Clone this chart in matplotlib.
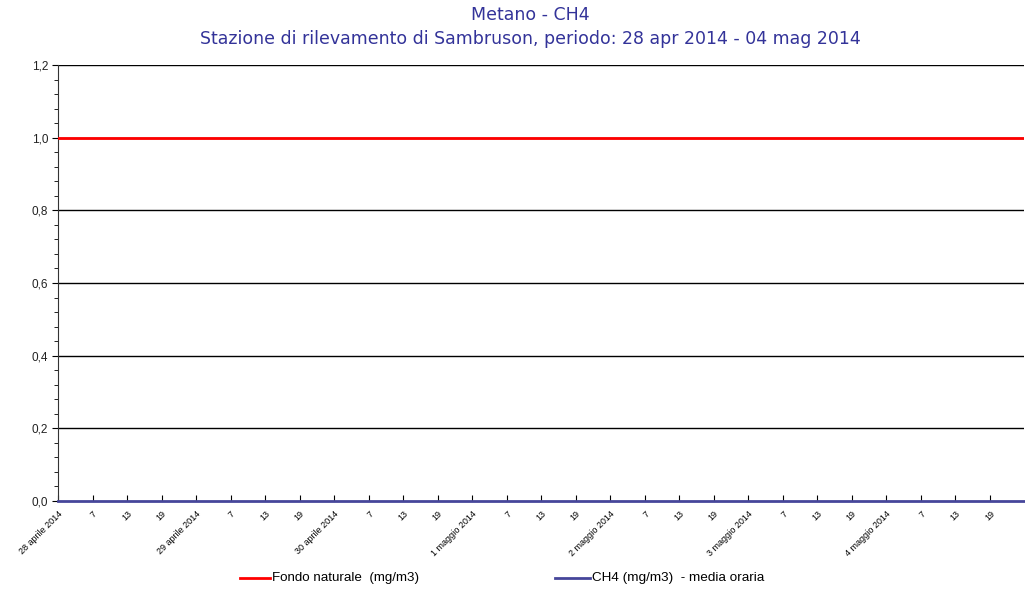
import matplotlib
matplotlib.use("Agg")
import matplotlib.pyplot as plt
from matplotlib.lines import Line2D

title_line1 = "Metano - CH4"
title_line2 = "Stazione di rilevamento di Sambruson, periodo: 28 apr 2014 - 04 mag 2014"
day_labels = ["28 aprile 2014", "29 aprile 2014", "30 aprile 2014", "1 maggio 2014",
              "2 maggio 2014", "3 maggio 2014", "4 maggio 2014"]
hour_labels = ["7", "13", "19"]
fondo_x = [0, 168]
fondo_y = [1.0, 1.0]
ch4_hours = list(range(0, 169))
ch4_values = [0.0] * len(ch4_hours)
y_ticks = [0.0, 0.2, 0.4, 0.6, 0.8, 1.0, 1.2]

fig = plt.figure(figsize=(10.25, 5.9), dpi=100)
ax = fig.add_axes([58/1025, 1-501/590, 1-58/1025 - 0.0005, (501-65)/590])

ax.plot(fondo_x, fondo_y, color="#ff0000", lw=2, zorder=3)
ax.plot(ch4_hours, ch4_values, color="#46469a", lw=2, zorder=3, clip_on=False)

ax.set_xlim(0, 168)
ax.set_ylim(0, 1.2)
ax.set_yticks(y_ticks)
ax.set_yticklabels([f"{v:.1f}".replace(".", ",") for v in y_ticks],
                   fontsize=8.5, family="Liberation Sans", color="#222222")
ax.set_yticks([i*0.04 for i in range(31)], minor=True)
for y in y_ticks[1:]:
    ax.axhline(y, color="black", lw=1, zorder=1)

xt = list(range(0, 168, 6))
labels = []
for d in range(7):
    labels.append(day_labels[d])
    labels.extend(hour_labels)
ax.set_xticks(xt)
ax.set_xticklabels(labels, rotation=45, ha="right", va="top", fontsize=6.5,
                   family="Liberation Sans", rotation_mode="anchor")
ax.tick_params(axis="x", length=4, pad=6, direction="in")
ax.tick_params(axis="y", which="major", length=4, direction="out", pad=3)
ax.tick_params(axis="y", which="minor", length=3, direction="out")
for s in ["top", "right"]:
    ax.spines[s].set_visible(False)
ax.spines["left"].set_color("#333333")
ax.spines["bottom"].set_visible(False)

fig.text(530/1025, 1-15/590, title_line1, ha="center", va="center", fontsize=12.5,
         color="#333399", family="DejaVu Sans")
fig.text(530/1025, 1-39/590, title_line2, ha="center", va="center", fontsize=12.5,
         color="#333399", family="DejaVu Sans")

fig.text(272/1025, 1-578/590, "Fondo naturale  (mg/m3)", fontsize=9.6, va="center",
         family="Liberation Sans")
fig.add_artist(Line2D([240/1025, 270/1025], [1-578/590]*2, color="#ff0000", lw=2))
fig.text(592/1025, 1-578/590, "CH4 (mg/m3)  - media oraria", fontsize=9.7, va="center",
         family="Liberation Sans")
fig.add_artist(Line2D([555/1025, 590/1025], [1-578/590]*2, color="#46469a", lw=2))

fig.savefig("out.png", dpi=100)
